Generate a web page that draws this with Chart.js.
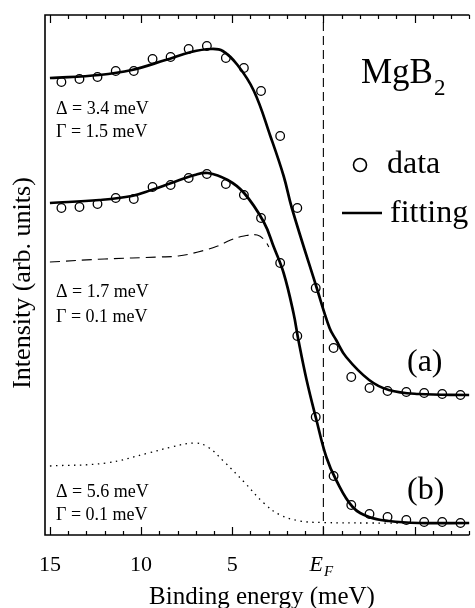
<!DOCTYPE html>
<html>
<head>
<meta charset="utf-8">
<script src="https://cdn.jsdelivr.net/npm/chart.js@4"></script>
<style>
  html, body { margin: 0; padding: 0; background: #fff; }
  #wrap { width: 475px; height: 608px; position: relative; }
</style>
</head>
<body>
<div id="wrap"><canvas id="chart"></canvas></div>
<script>
// Binding energy (meV) of the measured points, shared by both spectra
const dataEnergy = [14.37, 13.38, 12.39, 11.39, 10.40, 9.37, 8.38, 7.39, 6.39, 5.35, 4.36, 3.42,
  2.37, 1.43, 0.42, -0.56, -1.53, -2.53, -3.52, -4.55, -5.53, -6.52, -7.52];
// Intensity (arb. units) of spectrum (a) and (b)
const dataA = [453, 456, 458, 464, 464, 476, 478, 486, 489, 477, 467, 444,
  399, 327, 247, 187, 158, 147, 144, 143, 142, 141, 140];
const dataB = [327, 328, 331, 337, 336, 348, 350, 357, 361, 351, 340, 317,
  272, 199, 118, 59, 30, 21, 18, 15, 13, 13, 12];

// Fitting curves (a) and (b)
const fitEnergyA = [15.0, 12.29, 10.51, 8.66, 7.26, 6.17, 5.52, 4.71, 3.81, 2.91, 2.18, 1.73,
  0.38, -0.34, -0.70, -1.25, -2.51, -3.59, -5.22, -8.01];
const fitA = [457, 460, 465, 475, 483, 486, 484, 470, 444, 399, 359, 327,
  248, 207, 195, 178, 155, 145, 141, 140];
const fitEnergyB = [15.0, 12.29, 10.51, 9.43, 8.34, 7.06, 6.34, 5.25, 4.35, 3.27, 2.72, 2.18,
  1.64, 1.37, 0.92, 0.38, -0.16, -0.70, -1.61, -2.51, -3.59, -5.22, -8.01];
const fitB = [332, 335, 339, 345, 352, 360, 362, 355, 342, 313, 288, 262,
  222, 195, 155, 115, 78, 55, 28, 18, 14, 12, 12];

// Model spectra: Δ = 1.7 meV (dashed) and Δ = 5.6 meV (dotted)
const dashEnergy = [15.0, 12.0, 9.0, 7.96, 6.88, 5.8, 5.09, 4.35, 3.63, 3.23, 2.99];
const dashCurve = [273, 276, 278, 279, 283, 289, 295, 299, 300, 295, 288];
const dotEnergy = [15.0, 11.93, 9.59, 8.33, 7.06, 6.34, 5.43, 4.35, 3.27, 2.37, 1.28, 0.02, -2.51, -8.0];
const dotCurve = [69, 72, 82, 88, 92, 88, 73, 53, 32, 20, 14, 12.5, 12, 12];

// Axis
const tickValues = [15, 14, 13, 12, 11, 10, 9, 8, 7, 6, 5, 4, 3, 2, 1, 0, -1, -2, -3, -4, -5, -6, -7, -8];
const majorTicks = [15, 10, 5, 0, -5];
const tickLabels = ['15', '10', '5'];

const pts = (xs, ys) => xs.map((x, i) => ({ x, y: ys[i] }));

const SERIF = '"Liberation Serif", "DejaVu Serif", serif';

const decor = {
  id: 'decor',
  afterDraw(chart) {
    const { ctx, chartArea: a, scales } = chart;
    const xs = scales.x;
    ctx.save();
    ctx.strokeStyle = '#000';
    ctx.fillStyle = '#000';

    // frame: left, top and bottom
    ctx.lineWidth = 1.6;
    ctx.beginPath();
    ctx.moveTo(a.right, a.top); ctx.lineTo(a.left, a.top);
    ctx.lineTo(a.left, a.bottom); ctx.lineTo(a.right, a.bottom);
    ctx.stroke();

    // inward ticks on bottom and top
    ctx.lineWidth = 1.2;
    tickValues.forEach(v => {
      const px = Math.round(xs.getPixelForValue(v)) + 0.5;
      const len = majorTicks.includes(v) ? 8 : 4;
      ctx.beginPath();
      ctx.moveTo(px, a.bottom); ctx.lineTo(px, a.bottom - len);
      ctx.moveTo(px, a.top); ctx.lineTo(px, a.top + len);
      ctx.stroke();
    });

    // tick labels
    ctx.font = '22px ' + SERIF;
    ctx.textAlign = 'center';
    ctx.textBaseline = 'alphabetic';
    tickLabels.forEach(t => {
      ctx.fillText(t, xs.getPixelForValue(Number(t)), 571);
    });
    const ef = xs.getPixelForValue(0);
    ctx.textAlign = 'left';
    ctx.font = 'italic 22px ' + SERIF;
    ctx.fillText('E', ef - 14, 571);
    ctx.font = 'italic 15px ' + SERIF;
    ctx.fillText('F', ef + 0.5, 576);

    // axis titles
    ctx.font = '25px ' + SERIF;
    ctx.textAlign = 'center';
    ctx.fillText('Binding energy (meV)', 262, 604);
    ctx.save();
    ctx.translate(30, 283);
    ctx.rotate(-Math.PI / 2);
    ctx.font = '26px ' + SERIF;
    ctx.fillText('Intensity (arb. units)', 0, 0);
    ctx.restore();

    // parameter labels
    ctx.textAlign = 'left';
    ctx.font = '18px ' + SERIF;
    const params = [
      ['\u0394 = 3.4 meV', 114], ['\u0393 = 1.5 meV', 137],
      ['\u0394 = 1.7 meV', 297], ['\u0393 = 0.1 meV', 322],
      ['\u0394 = 5.6 meV', 497], ['\u0393 = 0.1 meV', 520]
    ];
    params.forEach(([t, y]) => ctx.fillText(t, 56, y));

    // MgB2
    ctx.font = '35px ' + SERIF;
    ctx.fillText('MgB', 361, 83);
    const w = ctx.measureText('MgB').width;
    ctx.font = '23px ' + SERIF;
    ctx.fillText('2', 361 + w + 1, 95);

    // legend
    ctx.lineWidth = 1.6;
    ctx.beginPath();
    ctx.arc(360, 165, 6.5, 0, Math.PI * 2);
    ctx.stroke();
    ctx.lineWidth = 2.6;
    ctx.beginPath();
    ctx.moveTo(342, 213); ctx.lineTo(382, 213);
    ctx.stroke();
    ctx.font = '32px ' + SERIF;
    ctx.fillText('data', 387, 173);
    ctx.fillText('fitting', 390, 222);

    // curve tags
    ctx.fillText('(a)', 407, 371);
    ctx.fillText('(b)', 407, 499);
    ctx.restore();
  }
};

new Chart(document.getElementById('chart'), {
  type: 'scatter',
  data: {
    datasets: [
      {
        label: 'EF',
        data: [{ x: 0, y: 0 }, { x: 0, y: 520 }],
        showLine: true, borderColor: '#000', borderWidth: 1.1,
        borderDash: [9, 5], pointRadius: 0,
      },
      {
        label: 'Δ = 5.6 meV',
        data: pts(dotEnergy, dotCurve),
        showLine: true, borderColor: '#000', borderWidth: 1.3,
        borderDash: [1.5, 4.5], pointRadius: 0, tension: 0.4,
      },
      {
        label: 'Δ = 1.7 meV',
        data: pts(dashEnergy, dashCurve),
        showLine: true, borderColor: '#000', borderWidth: 1.1,
        borderDash: [10, 6], pointRadius: 0, tension: 0.4,
      },
      {
        label: 'fit a',
        data: pts(fitEnergyA, fitA),
        showLine: true, borderColor: '#000', borderWidth: 2.7,
        pointRadius: 0, tension: 0.4,
      },
      {
        label: 'fit b',
        data: pts(fitEnergyB, fitB),
        showLine: true, borderColor: '#000', borderWidth: 2.7,
        pointRadius: 0, tension: 0.4,
      },
      {
        label: 'data a',
        data: pts(dataEnergy, dataA),
        pointRadius: 4.3, pointBorderWidth: 1.3,
        pointBorderColor: '#000', pointBackgroundColor: 'transparent',
      },
      {
        label: 'data b',
        data: pts(dataEnergy, dataB),
        pointRadius: 4.3, pointBorderWidth: 1.3,
        pointBorderColor: '#000', pointBackgroundColor: 'transparent',
      },
    ],
  },
  options: {
    responsive: true,
    maintainAspectRatio: false,
    animation: false,
    layout: { padding: { left: 45, right: 0, top: 15, bottom: 73 } },
    plugins: { legend: { display: false }, tooltip: { enabled: false } },
    scales: {
      x: { type: 'linear', reverse: true, min: -8.01, max: 15.27, display: false },
      y: { type: 'linear', min: 0, max: 520, display: false },
    },
  },
  plugins: [decor],
});
</script>
</body>
</html>
